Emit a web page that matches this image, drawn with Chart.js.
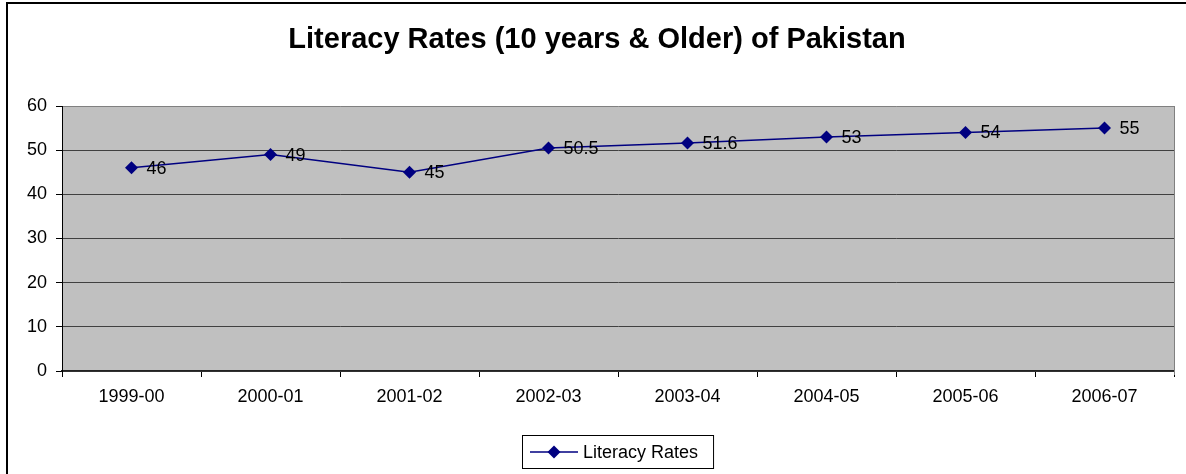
<!DOCTYPE html>
<html>
<head>
<meta charset="utf-8">
<script src="https://cdn.jsdelivr.net/npm/chart.js@4.4.1/dist/chart.umd.min.js"></script>
<style>
  body { margin: 0; background: #fff; overflow: hidden; }
  #marco { position: absolute; left: 6px; top: 2px; width: 1300px; height: 600px; border: 2px solid #000; }
  #grafica { position: absolute; left: 0; top: 0; }
</style>
</head>
<body>
<div id="marco"></div>
<canvas id="grafica" width="1186" height="474"></canvas>
<script>
// DATOS DEL GRAFICO
const titulo = 'Literacy Rates (10 years & Older) of Pakistan';
const serieNombre = 'Literacy Rates';
const periodos = ['1999-00', '2000-01', '2001-02', '2002-03', '2003-04', '2004-05', '2005-06', '2006-07'];
const tasas = [46, 49, 45, 50.5, 51.6, 53, 54, 55];
const ticksY = [0, 10, 20, 30, 40, 50, 60];

const azul = '#000080';
const fuente = { family: 'Liberation Sans, Arial, sans-serif', size: 18 };

// FONDO GRIS DEL AREA DE TRAZADO
const fondoPlot = {
  id: 'fondoPlot',
  beforeDraw: (chart) => {
    const { ctx, chartArea: a } = chart;
    ctx.save();
    ctx.fillStyle = '#c0c0c0';
    ctx.fillRect(a.left, a.top, a.right - a.left, a.bottom - a.top);
    ctx.restore();
  },
  afterDraw: (chart) => {
    const { ctx, chartArea: a } = chart;
    ctx.save();
    ctx.strokeStyle = '#808080';
    ctx.lineWidth = 1;
    ctx.beginPath();
    ctx.moveTo(a.right + 0.5, a.top);
    ctx.lineTo(a.right + 0.5, a.bottom + 4);
    ctx.stroke();
    ctx.restore();
  }
};

// ETIQUETAS DE VALOR A LA DERECHA DE CADA PUNTO
const etiquetasValor = {
  id: 'etiquetasValor',
  afterDatasetsDraw: (chart) => {
    const { ctx } = chart;
    const meta = chart.getDatasetMeta(0);
    ctx.save();
    ctx.font = `${fuente.size}px ${fuente.family}`;
    ctx.fillStyle = '#000';
    ctx.textAlign = 'left';
    ctx.textBaseline = 'middle';
    meta.data.forEach((punto, i) => {
      ctx.fillText(String(chart.data.datasets[0].data[i]), punto.x + 15, punto.y + 1);
    });
    ctx.restore();
  }
};

// LEYENDA CON RECUADRO ABAJO
const leyenda = {
  id: 'leyenda',
  afterDraw: (chart) => {
    const { ctx, chartArea: a } = chart;
    const ds = chart.data.datasets[0];
    ctx.save();
    ctx.font = `${fuente.size}px ${fuente.family}`;
    const anchoTexto = ctx.measureText(ds.label).width;
    const ancho = anchoTexto + 76;
    const izq = Math.round((a.left + a.right) / 2 - ancho / 2);
    const arriba = 435;
    const alto = 33;
    const cy = arriba + alto / 2 + 0.5;

    ctx.strokeStyle = '#000';
    ctx.lineWidth = 1;
    ctx.strokeRect(izq + 0.5, arriba + 0.5, ancho, alto);

    ctx.strokeStyle = ds.borderColor;
    ctx.lineWidth = ds.borderWidth;
    ctx.beginPath();
    ctx.moveTo(izq + 8, cy);
    ctx.lineTo(izq + 56, cy);
    ctx.stroke();

    ctx.fillStyle = ds.pointBackgroundColor;
    ctx.beginPath();
    ctx.moveTo(izq + 32 - 6.5, cy);
    ctx.lineTo(izq + 32, cy - 6.5);
    ctx.lineTo(izq + 32 + 6.5, cy);
    ctx.lineTo(izq + 32, cy + 6.5);
    ctx.closePath();
    ctx.fill();

    ctx.fillStyle = '#000';
    ctx.textAlign = 'left';
    ctx.textBaseline = 'middle';
    ctx.fillText(ds.label, izq + 61, cy + 1);
    ctx.restore();
  }
};

const config = {
  type: 'line',
  data: {
    labels: periodos,
    datasets: [{
      label: serieNombre,
      data: tasas,
      borderColor: azul,
      borderWidth: 1.5,
      pointStyle: 'rectRot',
      pointRadius: 6.5,
      pointBorderWidth: 0,
      pointBackgroundColor: azul,
      pointBorderColor: azul,
      tension: 0,
      fill: false
    }]
  },
  options: {
    responsive: false,
    animation: false,
    devicePixelRatio: 1,
    layout: { padding: { left: 20, right: 12, top: 0, bottom: 53 } },
    plugins: {
      legend: { display: false },
      tooltip: { enabled: false },
      title: {
        display: true,
        text: titulo,
        color: '#000',
        font: { family: fuente.family, size: 29, weight: 'bold', lineHeight: 1.2 },
        padding: { top: 23, bottom: 48.2 }
      }
    },
    scales: {
      x: {
        offset: true,
        grid: {
          offset: true,
          drawOnChartArea: false,
          drawTicks: true,
          tickLength: 6,
          tickColor: '#000'
        },
        border: { display: true, color: '#222', width: 1.5 },
        ticks: { color: '#000', font: fuente, padding: 9, maxRotation: 0, autoSkip: false },
        afterFit: (scale) => { scale.height = 50; }
      },
      y: {
        min: 0,
        max: 60,
        afterBuildTicks: (scale) => { scale.ticks = ticksY.map((v) => ({ value: v })); },
        grid: {
          color: (c) => (c.tick && c.tick.value === 60 ? '#808080' : '#404040'),
          lineWidth: 1,
          drawTicks: true,
          tickLength: 6,
          tickColor: '#000'
        },
        border: { display: true, color: '#000', width: 1 },
        ticks: { color: '#000', font: fuente, padding: 9 },
        afterFit: (scale) => { scale.width = 42; }
      }
    }
  },
  plugins: [fondoPlot, etiquetasValor, leyenda]
};

new Chart(document.getElementById('grafica'), config);
</script>
</body>
</html>
